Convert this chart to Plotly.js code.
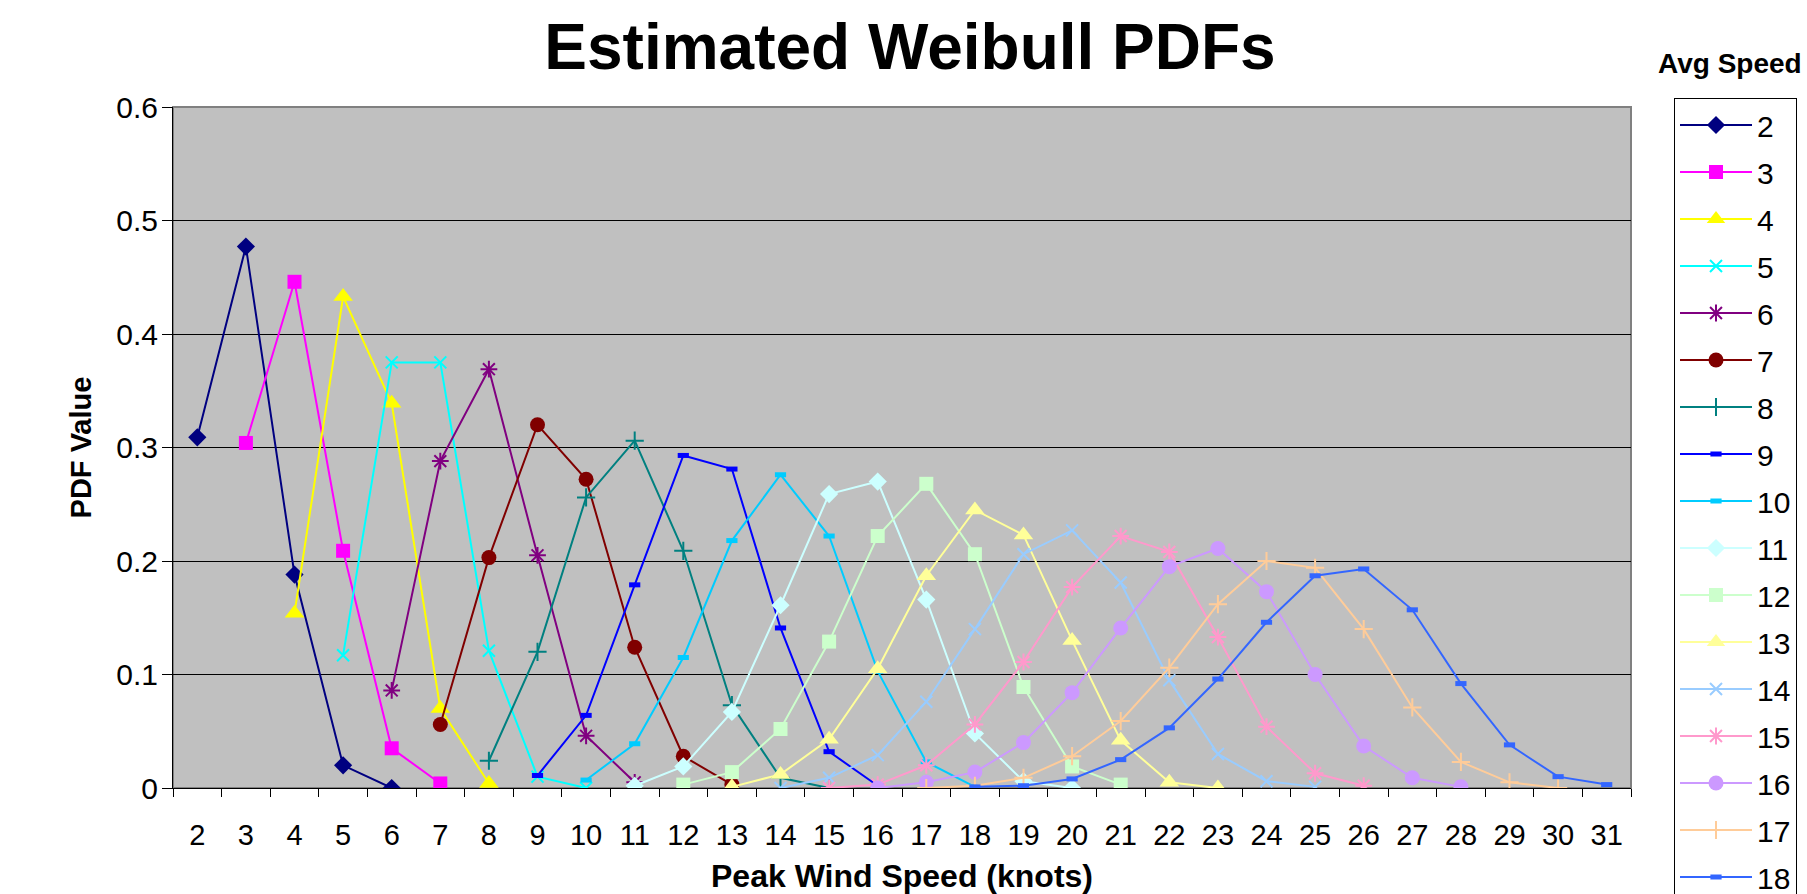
<!DOCTYPE html>
<html>
<head>
<meta charset="utf-8">
<script src="https://cdn.plot.ly/plotly-3.0.1.min.js"></script>
<style>
html,body{margin:0;padding:0;background:#ffffff;}
#chart{width:1807px;height:894px;}
</style>
</head>
<body>
<div id="chart"></div>
<script>
// Category axis: peak wind speed (knots)
const categories = [2,3,4,5,6,7,8,9,10,11,12,13,14,15,16,17,18,19,20,21,22,23,24,25,26,27,28,29,30,31];

// Legend names (average speed) and the first category each series starts at
const seriesNames = ['2','3','4','5','6','7','8','9','10','11','12','13','14','15','16','17','18'];
const seriesStart = [2,3,4,5,6,7,8,9,10,11,12,13,14,15,16,17,18];

// PDF values, one array per average speed
const avg2  = [0.309,0.477,0.188,0.020,0.000];
const avg3  = [0.304,0.446,0.209,0.035,0.004];
const avg4  = [0.154,0.433,0.339,0.070,0.004];
const avg5  = [0.117,0.375,0.375,0.121,0.010,0.000];
const avg6  = [0.086,0.288,0.369,0.205,0.046,0.005];
const avg7  = [0.056,0.203,0.320,0.272,0.124,0.028,0.003];
const avg8  = [0.024,0.120,0.256,0.306,0.209,0.073,0.009,0.000];
const avg9  = [0.011,0.064,0.179,0.293,0.281,0.141,0.032,0.002];
const avg10 = [0.007,0.039,0.115,0.218,0.276,0.222,0.103,0.023,0.001];
const avg11 = [0.002,0.019,0.067,0.161,0.259,0.270,0.166,0.048,0.006,0.000];
const avg12 = [0.003,0.014,0.052,0.129,0.222,0.268,0.206,0.089,0.019,0.003];
const avg13 = [0.001,0.012,0.043,0.105,0.187,0.245,0.223,0.130,0.042,0.005,0.000];
const avg14 = [0.000,0.009,0.029,0.076,0.140,0.206,0.227,0.181,0.095,0.030,0.006,0.001];
const avg15 = [0.000,0.003,0.020,0.056,0.111,0.177,0.222,0.208,0.133,0.054,0.013,0.002];
const avg16 = [0.000,0.005,0.014,0.040,0.084,0.141,0.195,0.211,0.173,0.100,0.037,0.009,0.001];
const avg17 = [0.000,0.002,0.009,0.028,0.059,0.106,0.162,0.200,0.194,0.140,0.071,0.023,0.005,0.000];
const avg18 = [0.001,0.002,0.008,0.025,0.053,0.096,0.146,0.187,0.193,0.157,0.092,0.038,0.010,0.003];

const seriesValues = [avg2,avg3,avg4,avg5,avg6,avg7,avg8,avg9,avg10,avg11,avg12,avg13,avg14,avg15,avg16,avg17,avg18];

// Styles (Excel default line-chart palette and markers)
const colors = ['#000080','#FF00FF','#FFFF00','#00FFFF','#800080','#800000','#008080','#0000FF',
                '#00CCFF','#CCFFFF','#CCFFCC','#FFFF99','#99CCFF','#FF99CC','#CC99FF','#FFCC99','#3366FF'];
const symbols = ['diamond','square','triangle-up','x-thin','asterisk','circle','cross-thin','line-ew',
                 'line-ew','diamond','square','triangle-up','x-thin','asterisk','circle','cross-thin','line-ew'];
const sizes = {'diamond':14,'square':14,'triangle-up':17,'x-thin':12,'asterisk':14,'circle':15,'cross-thin':13,'line-ew':8};
const thin = {'x-thin':2,'asterisk':2,'cross-thin':2,'line-ew':5};

const FONT = 'Liberation Sans, Arial, sans-serif';

const traces = seriesValues.map((vals, i) => {
  const start = categories.indexOf(seriesStart[i]);
  const xs = categories.slice(start, start + vals.length).map(String);
  const sym = symbols[i];
  const marker = {symbol: sym, size: sizes[sym], color: colors[i]};
  if (thin[sym]) marker.line = {color: colors[i], width: thin[sym]};
  return {
    type: 'scatter', mode: 'lines+markers',
    x: xs, y: vals, name: seriesNames[i], legendgroup: 'g' + seriesNames[i],
    line: {color: colors[i], width: 2},
    marker: marker,
    hoverinfo: 'skip'
  };
});

const L = 173, R = 1631, T = 107, B = 788, W = 1807, H = 894;
const pw = R - L, ph = B - T;

const layout = {
  width: W, height: H,
  margin: {l: L, r: W - R, t: T, b: H - B, autoexpand: false},
  paper_bgcolor: '#ffffff',
  plot_bgcolor: '#C0C0C0',
  font: {family: FONT, color: '#000000', size: 29},
  title: {
    text: 'Estimated Weibull PDFs',
    font: {family: FONT, size: 64, weight: 'bold', color: '#000000'},
    xref: 'container', x: 910 / W, xanchor: 'center',
    yref: 'container', y: 1 - 47 / H, yanchor: 'middle'
  },
  xaxis: {
    type: 'category', categoryorder: 'array', categoryarray: categories.map(String),
    range: [-0.5, categories.length - 0.5],
    tickson: 'boundaries', ticks: 'outside', ticklen: 8, tickwidth: 1, tickcolor: '#000000',
    showline: true, linecolor: '#000000', linewidth: 1,
    showgrid: false, zeroline: false,
    tickfont: {family: FONT, size: 29, color: '#000000'},
    ticklabelstandoff: 21,
    dtick: 1,
    automargin: false,
    title: {text: 'Peak Wind Speed (knots)', font: {family: FONT, size: 32, weight: 'bold', color: '#000000'}, standoff: 30}
  },
  yaxis: {
    range: [0, 0.6], dtick: 0.1, tick0: 0,
    ticks: 'outside', ticklen: 10, tickwidth: 1, tickcolor: '#000000',
    showline: true, linecolor: '#000000', linewidth: 1,
    showgrid: true, gridcolor: '#000000', gridwidth: 1,
    zeroline: false,
    tickfont: {family: FONT, size: 30, color: '#000000'},
    ticklabelstandoff: -2,
    automargin: false,
    title: {text: 'PDF Value', font: {family: FONT, size: 29, weight: 'bold', color: '#000000'}, standoff: 16}
  },
  legend: {
    x: (1674 - L) / pw, xanchor: 'left', xref: 'paper',
    y: (B - 98) / ph, yanchor: 'top', yref: 'paper',
    bgcolor: '#ffffff', bordercolor: '#000000', borderwidth: 1,
    font: {family: FONT, size: 30, color: '#000000'},
    itemwidth: 72, traceorder: 'grouped', tracegroupgap: 5, maxheight: 2000,
    itemclick: false, itemdoubleclick: false
  },
  annotations: [{
    text: 'Avg Speed', showarrow: false,
    xref: 'paper', x: (1656 - L) / pw, xanchor: 'left',
    yref: 'paper', y: (B - 64) / ph, yanchor: 'middle',
    font: {family: FONT, size: 28, weight: 'bold', color: '#000000'}
  }],
  shapes: [{
    type: 'rect', xref: 'paper', yref: 'paper', x0: 0, x1: 1, y0: 0, y1: 1,
    line: {color: '#808080', width: 2}, layer: 'between'
  }],
  showlegend: true,
  hovermode: false
};

Plotly.newPlot('chart', traces, layout, {displayModeBar: false, staticPlot: true});
</script>
</body>
</html>
